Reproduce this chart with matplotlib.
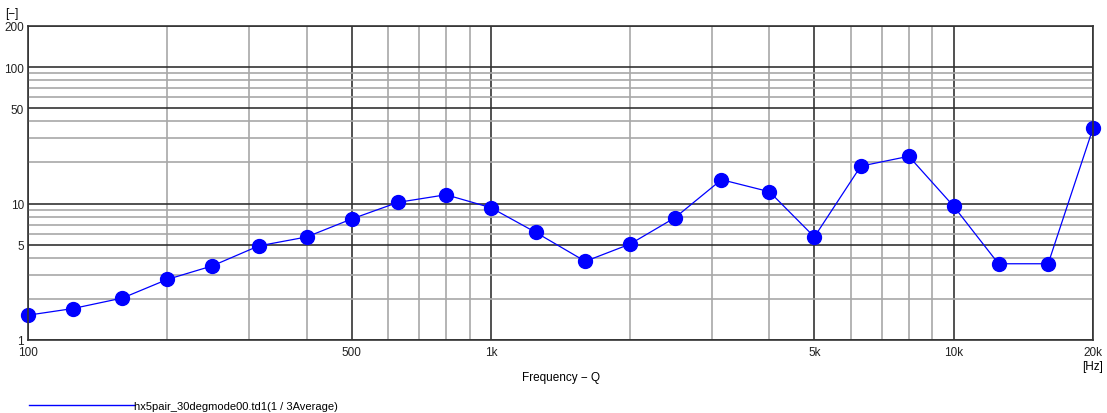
import numpy as np
import matplotlib
matplotlib.use("Agg")
import matplotlib.pyplot as plt
from matplotlib.ticker import FixedLocator, FixedFormatter, NullFormatter

# 1/3 octave band centres and values
freq = [100, 125, 160, 200, 250, 315, 400, 500, 630, 800, 1000, 1250,
        1600, 2000, 2500, 3150, 4000, 5000, 6300, 8000, 10000, 12500, 16000, 20000]
vals = [1.52, 1.70, 2.03, 2.78, 3.49, 4.89, 5.69, 7.7, 10.2, 11.6, 9.33, 6.15,
        3.77, 5.05, 7.88, 14.96, 12.2, 5.69, 18.8, 22.2, 9.55, 3.62, 3.62, 35.6]

x_major = [100, 500, 1000, 5000, 10000, 20000]
x_major_lbl = ["100", "500", "1k", "5k", "10k", "20k"]
x_minor = [200, 300, 400, 600, 700, 800, 900, 2000, 3000, 4000,
           6000, 7000, 8000, 9000]
y_major = [1, 5, 10, 50, 100, 200]
y_major_lbl = ["1", "5", "10", "50", "100", "200"]
y_minor = [2, 3, 4, 6, 7, 8, 9, 20, 30, 40, 60, 70, 80, 90]

legend_label = "hx5pair_30degmode00.td1(1 / 3Average)"

plt.rcParams['font.family'] = ['Liberation Sans', 'DejaVu Sans']

fig = plt.figure(figsize=(11.07, 4.14), dpi=100)
ax = fig.add_axes([28/1107, 73/414, 1065/1107, 314/414])
ax.set_xscale('log')
ax.set_yscale('log')
ax.set_xlim(100, 20000)
ax.set_ylim(1, 200)

ax.xaxis.set_major_locator(FixedLocator(x_major))
ax.xaxis.set_major_formatter(FixedFormatter(x_major_lbl))
ax.xaxis.set_minor_locator(FixedLocator(x_minor))
ax.xaxis.set_minor_formatter(NullFormatter())
ax.yaxis.set_major_locator(FixedLocator(y_major))
ax.yaxis.set_major_formatter(FixedFormatter(y_major_lbl))
ax.yaxis.set_minor_locator(FixedLocator(y_minor))
ax.yaxis.set_minor_formatter(NullFormatter())

ax.grid(which='major', color='#333333', lw=1.2)
ax.grid(which='minor', color='#a8a8a8', lw=1.2)
ax.set_axisbelow(True)
ax.tick_params(which='both', length=0, labelsize=8.5, colors='#222222')
ax.tick_params(axis='x', pad=4)
ax.tick_params(axis='y', pad=3)
for s in ax.spines.values():
    s.set_color('#333333')
    s.set_linewidth(1.2)

ax.plot(freq, vals, color='#0000ff', lw=0.9, marker='o', ms=10,
        mec='#0000ff', mfc='#0000ff', label=legend_label, clip_on=False)

ax.set_xlabel("Frequency − Q", fontsize=8.5, labelpad=10)
fig.text(12/1107, 1 - 14/414, "[−]", fontsize=8.5, ha='center', va='center')
fig.text(1093/1107, 1 - 367/414, "[Hz]", fontsize=8.5, ha='center', va='center')

leg = fig.legend(loc='lower left', bbox_to_anchor=(20/1107, -7/414),
                 frameon=False, fontsize=8, handlelength=9.5,
                 handletextpad=0.0, borderpad=0.3)
for h in leg.legend_handles:
    h.set_marker('')
    h.set_linewidth(1.0)

fig.savefig("out.png", dpi=100)
